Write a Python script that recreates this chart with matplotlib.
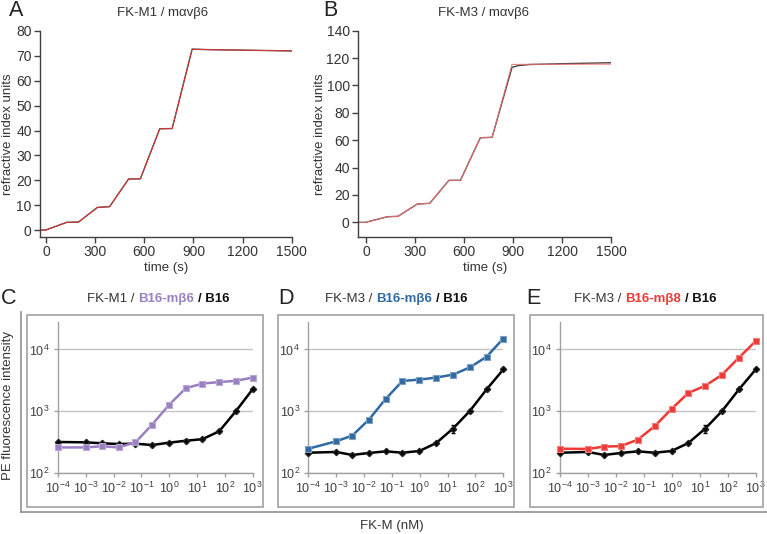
import matplotlib
matplotlib.use("Agg")
import matplotlib.pyplot as plt
from matplotlib.lines import Line2D
from matplotlib.patches import Rectangle
import numpy as np

plt.rcParams['font.family'] = ['Liberation Sans', 'DejaVu Sans']
plt.rcParams['mathtext.default'] = 'regular'

W, H = 767, 534

# ---------------- data: panels A and B (sensorgrams) ----------------
tA = [-37, 0, 5, 127, 198, 314, 388, 504, 576, 694, 770, 892, 1000, 1200, 1500]
yA_data = [0, 0, 0.2, 3.1, 3.2, 9.1, 9.4, 20.5, 20.6, 40.7, 40.8, 72.7, 72.5, 72.3, 72.0]
yA_fit = [0, 0, 0.1, 3.1, 3.2, 9.1, 9.4, 20.5, 20.6, 40.7, 40.8, 72.7, 72.5, 72.3, 72.0]

tB = [-51, 0, 5, 129, 194, 312, 388, 506, 576, 698, 770, 892, 930, 1000, 1200, 1500]
yB_data = [0, 0, 0.3, 4.1, 4.4, 13.4, 13.9, 30.7, 30.7, 61.8, 62.1, 113.2, 114.5, 115.3, 115.9, 116.6]
yB_fit = [0, 0, 0.3, 4.1, 4.4, 13.4, 13.9, 30.7, 30.7, 61.8, 62.1, 115.4, 115.4, 115.5, 115.5, 115.6]

# ---------------- data: panels C, D, E (binding curves) ----------------
conc = [0.0001, 0.001, 0.0038, 0.015, 0.061, 0.24, 0.98, 3.9, 15.6, 62.5, 250, 1000]
C_b6 = [257, 257, 269, 257, 311, 600, 1260, 2340, 2800, 2950, 3100, 3500]
C_b16 = [315, 311, 300, 292, 296, 281, 307, 330, 350, 470, 1000, 2270]
D_b6 = [245, 323, 400, 727, 1590, 3080, 3240, 3500, 3900, 5100, 7600, 15000]
D_b16 = [211, 217, 194, 209, 222, 211, 225, 303, 519, 1000, 2240, 4730]
E_b8 = [245, 243, 265, 270, 344, 565, 1085, 1970, 2570, 3890, 7330, 13650]
E_b16 = [211, 217, 194, 209, 222, 211, 225, 303, 519, 1000, 2240, 4730]
C_err = [0, 0, 0, 0, 0, 0, 0, 0, 0, 0, 0, 0]
D_err = [0, 0, 0, 0, 0, 0, 0, 10, 70, 30, 0, 0]
E_err = [0, 0, 0, 0, 0, 0, 0, 10, 70, 30, 0, 0]
xtick_vals = [1e-4, 1e-3, 1e-2, 1e-1, 1e0, 1e1, 1e2, 1e3]
xtick_labels = ['$10^{-4}$', '$10^{-3}$', '$10^{-2}$', '$10^{-1}$',
                '$10^{0}$', '$10^{1}$', '$10^{2}$', '$10^{3}$']
ytick_vals = [1e2, 1e3, 1e4]
ytick_labels = ['$10^{2}$', '$10^{3}$', '$10^{4}$']

fig = plt.figure(figsize=(W / 100, H / 100), dpi=100)


def fr(x0, y0, x1, y1):
    """pixel box -> figure fraction rect"""
    return [x0 / W, 1 - y1 / H, (x1 - x0) / W, (y1 - y0) / H]


axcol = '#404040'
txtcol = '#333333'

# ---------------- A and B ----------------
def sensor(ax, t, yd, yf, ylim, yticks, fitcol, ylab_x):
    ax.plot(t, yd, color='#444444', lw=1.0)
    ax.plot(t, yf, color=fitcol, lw=0.7)
    ax.set_xlim(t[0], 1500)
    ax.set_ylim(*ylim)
    ax.set_xticks([0, 300, 600, 900, 1200, 1500])
    ax.set_yticks(yticks)
    for s in ['top', 'right']:
        ax.spines[s].set_visible(False)
    for s in ['left', 'bottom']:
        ax.spines[s].set_color(axcol)
        ax.spines[s].set_linewidth(1.0)
    ax.tick_params(direction='out', length=4, width=1.0, color=axcol,
                   labelcolor=txtcol, labelsize=10, pad=2)
    ax.set_xlabel('time (s)', fontsize=9.5, color=txtcol, labelpad=2)
    ax.set_ylabel('refractive index units', fontsize=9.5, color=txtcol,
                  va='center')
    ax.yaxis.set_label_coords(ylab_x, 0.5)


axA = fig.add_axes(fr(40, 31, 291.7, 237))
sensor(axA, tA, yA_data, yA_fit, (-2.8, 80), list(range(0, 81, 10)), '#e03535',
       (8.5 - 40) / 251.7)
axB = fig.add_axes(fr(358, 30.7, 611.3, 237))
sensor(axB, tB, yB_data, yB_fit, (-10.7, 140), list(range(0, 141, 20)), '#f07070',
       (320 - 358) / 253.3)

fig.text(163 / W, 1 - 13 / H, 'FK-M1 / mαvβ6', ha='center', va='center',
         fontsize=9.5, color=txtcol)
fig.text(484 / W, 1 - 13 / H, 'FK-M3 / mαvβ6', ha='center', va='center',
         fontsize=9.5, color=txtcol)
for lab, x, y in [('A', 16.5, 11), ('B', 330, 11), ('C', 8.5, 299),
                  ('D', 285.5, 299), ('E', 533.5, 299)]:
    fig.text(x / W, 1 - y / H, lab, ha='center', va='center', fontsize=15.5,
             color='#222222')

# ---------------- C, D, E ----------------
boxcol = '#a8a8a8'
for x0, x1 in [(27, 263), (278, 514), (530, 763)]:
    fig.add_artist(Rectangle((x0 / W, 1 - 507 / H), (x1 - x0) / W, (507 - 315) / H,
                             transform=fig.transFigure, fill=False,
                             edgecolor=boxcol, lw=1.3))
# outer bracket
fig.add_artist(Line2D([21 / W, 21 / W], [1 - 312 / H, 1 - 512 / H],
                      transform=fig.transFigure, color='#909090', lw=1.2))
fig.add_artist(Line2D([21 / W, 767 / W], [1 - 512 / H, 1 - 512 / H],
                      transform=fig.transFigure, color='#909090', lw=1.2))
fig.text(8 / W, 1 - 405 / H, 'PE fluorescence intensity', rotation=90,
         ha='center', va='center', fontsize=9.5, color=txtcol)
fig.text(392 / W, 1 - 526 / H, 'FK-M (nM)', ha='center', va='center',
         fontsize=9.5, color=txtcol)


def binding(ax, ys, b16, err, col, ecol):
    ax.set_xscale('log')
    ax.set_yscale('log')
    ax.set_xlim(1e-4, 1e3)
    ax.set_ylim(1e2, 10 ** 4.45)
    ax.set_yticks(ytick_vals)
    ax.set_yticklabels(ytick_labels)
    ax.set_xticks(xtick_vals)
    ax.set_xticklabels(xtick_labels)
    ax.minorticks_off()
    ax.yaxis.grid(True, color='#c4c4c4', lw=1.0)
    ax.set_axisbelow(True)
    for s in ['top', 'right']:
        ax.spines[s].set_visible(False)
    for s in ['left', 'bottom']:
        ax.spines[s].set_color('#a0a0a0')
        ax.spines[s].set_linewidth(1.0)
    ax.tick_params(direction='out', length=3, width=1.0, color='#a0a0a0',
                   labelcolor='#404040', labelsize=9, pad=3)
    ax.errorbar(conc, b16, yerr=err, color='black', lw=1.8,
                elinewidth=0.8, capsize=1.5, marker='D', markersize=3.2,
                markeredgecolor='#222222', clip_on=False, zorder=3)
    ax.plot(conc, ys, color=col, lw=1.8, marker='s', markersize=5,
            markerfacecolor=col, markeredgecolor=ecol, markeredgewidth=0.8,
            clip_on=False, zorder=4)


axC = fig.add_axes(fr(58, 321.7, 252.7, 472.7))
axD = fig.add_axes(fr(308.3, 321.7, 503.3, 472.7))
axE = fig.add_axes(fr(560, 321.7, 755.7, 472.7))
purple = '#9a7fc2'
blue = '#2f6aa3'
red = '#ef3934'
binding(axC, C_b6, C_b16, C_err, purple, '#b9a9d2')
binding(axD, D_b6, D_b16, D_err, blue, '#7f9fc0')
binding(axE, E_b8, E_b16, E_err, red, '#f08080')


def rich(xc, ybase, pieces, fs=9.5):
    r = fig.canvas.get_renderer()
    objs = [fig.text(0, 0, s, color=c, fontweight=w, fontsize=fs,
                     ha='left', va='baseline') for s, c, w in pieces]
    widths = [t.get_window_extent(r).width for t in objs]
    gap = 0.30 * fs * fig.dpi / 72
    total = sum(widths) + gap * (len(objs) - 1)
    x = xc - total / 2
    for t, wd in zip(objs, widths):
        t.set_position((x / W, 1 - ybase / H))
        x += wd + gap


rich(158, 302, [('FK-M1 /', txtcol, 'normal'), ('B16-mβ6', purple, 'bold'),
                ('/ B16', '#111111', 'bold')])
rich(396, 302, [('FK-M3 /', txtcol, 'normal'), ('B16-mβ6', blue, 'bold'),
                ('/ B16', '#111111', 'bold')])
rich(645, 302, [('FK-M3 /', txtcol, 'normal'), ('B16-mβ8', red, 'bold'),
                ('/ B16', '#111111', 'bold')])

fig.savefig('out.png', dpi=100)
